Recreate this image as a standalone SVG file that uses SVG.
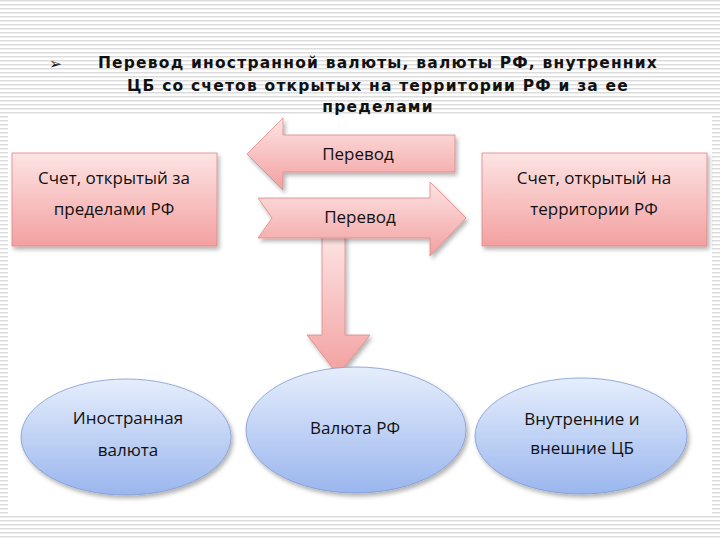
<svg xmlns="http://www.w3.org/2000/svg" width="720" height="540" viewBox="0 0 720 540">
<defs>
<pattern id="stripes" width="4" height="4" patternUnits="userSpaceOnUse"><rect width="4" height="4" fill="#fff"/><rect width="4" height="1.5" fill="#dcdcdc"/></pattern>
<linearGradient id="pink" x1="0" y1="0" x2="0" y2="1"><stop offset="0" stop-color="#fde4e4"/><stop offset="1" stop-color="#f3a0a0"/></linearGradient>
<linearGradient id="blue" x1="0" y1="0" x2="0" y2="1"><stop offset="0" stop-color="#e6eefc"/><stop offset="1" stop-color="#9ab6ee"/></linearGradient>
<filter id="sh" x="-10%" y="-10%" width="130%" height="130%"><feDropShadow dx="2" dy="3" stdDeviation="2" flood-color="#000" flood-opacity="0.3"/></filter>
</defs>
<style>
.t{font-family:"Open Sans","Liberation Sans",sans-serif;font-size:17px;fill:#111;text-anchor:middle}
.p{fill:url(#pink);stroke:#d88;stroke-width:0.8;filter:url(#sh)}
.b{fill:url(#blue);stroke:#7f9bd0;stroke-width:0.8;filter:url(#sh)}
.h{font-family:"DejaVu Sans","Liberation Sans",sans-serif;font-size:15.5px;font-weight:bold;fill:#111;text-anchor:middle;letter-spacing:1.2px}
</style>
<rect width="720" height="540" fill="url(#stripes)"/>
<rect x="8" y="115" width="704" height="400" fill="#fff"/>
<text x="56" y="69" class="h" font-size="20">➢</text>
<text x="378" y="68" class="h">Перевод иностранной валюты, валюты РФ, внутренних</text>
<text x="378" y="91" class="h">ЦБ со счетов открытых на территории РФ и за ее</text>
<text x="378" y="112" class="h">пределами</text>
<g id="connectors">
<path class="p" d="M455,135 H283 V118 L247,154 L283,190 V172 H455 Z"/>
<text x="358" y="160" class="t" font-size="16">Перевод</text>
<path class="p" d="M322,235 H345 V335 H370 L338,375 L307,335 H322 Z"/>
<path class="p" d="M258,198 H430 V182 L466,218 L430,256 V238 H258 L272,218 Z"/>
<text x="360" y="223" class="t" font-size="16">Перевод</text>
</g>
<g id="box-left"><rect class="p" x="12" y="153" width="205" height="93"/>
<text x="114" y="184" class="t">Счет, открытый за</text><text x="114" y="215" class="t">пределами РФ</text></g>
<g id="box-right"><rect class="p" x="482" y="153" width="225" height="93"/>
<text x="594" y="184" class="t">Счет, открытый на</text><text x="594" y="215" class="t">территории РФ</text></g>
<g id="ell-1"><ellipse class="b" cx="126" cy="437" rx="105" ry="58"/>
<text x="128" y="424" class="t">Иностранная</text><text x="128" y="456" class="t">валюта</text></g>
<g id="ell-2"><ellipse class="b" cx="356" cy="430" rx="110" ry="63"/>
<text x="355" y="434" class="t">Валюта РФ</text></g>
<g id="ell-3"><ellipse class="b" cx="581" cy="436" rx="106" ry="58"/>
<text x="582" y="425" class="t">Внутренние и</text><text x="582" y="454" class="t">внешние ЦБ</text></g>
</svg>
